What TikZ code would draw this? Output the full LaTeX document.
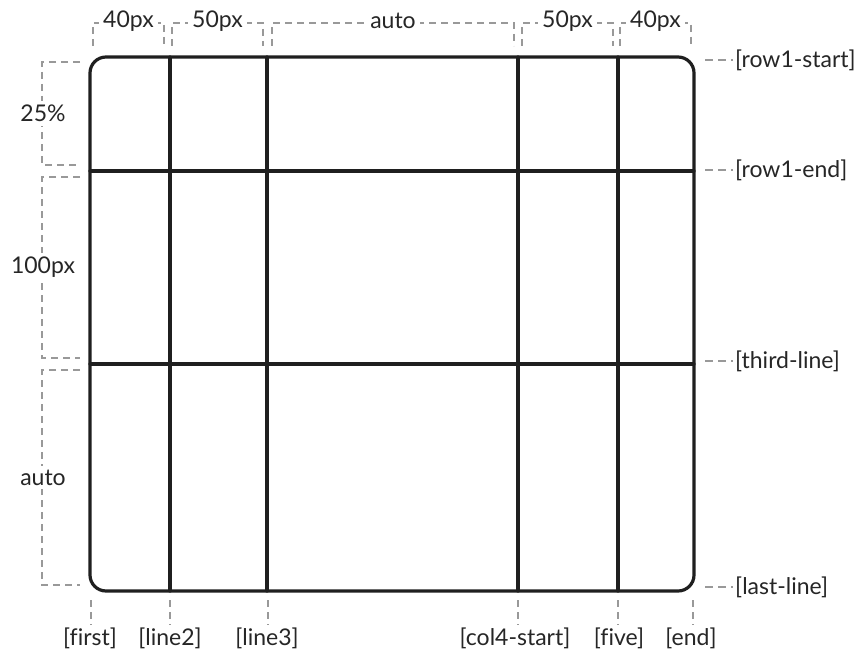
\documentclass[tikz,border=0pt]{standalone}
\usepackage{fontspec}
\setmainfont{Lato}[Ligatures=NoCommon]
\begin{document}
\begin{tikzpicture}[x=1pt,y=-1pt,
  grid/.style={line width=3.2pt,color=black!88,line cap=round,line join=round},
  dim/.style={color=black!40,line width=1.1pt,dash pattern=on 7pt off 5pt},
  lbl/.style={font=\fontsize{23}{26}\selectfont,text=black!85,inner sep=2pt},
  dlbl/.style={lbl,fill=white,inner sep=4pt}]
\useasboundingbox[fill=white] (0,0) rectangle (866,666);
% grid coordinates
\coordinate (tl) at (90,57);
\coordinate (br) at (694,591);
\draw[grid,rounded corners=16pt] (tl) rectangle (br);
\foreach \x/\n in {170/l2,267/l3,518/c4,618/f5}{
  \coordinate (\n top) at (\x,57);
  \coordinate (\n bot) at (\x,591);
  \draw[grid] (\n top) -- (\n bot);
}
\foreach \y/\n in {171/r1e,364/r3}{
  \coordinate (\n L) at (90,\y);
  \coordinate (\n R) at (694,\y);
  \draw[grid] (\n L) -- (\n R);
}
% top dimension brackets
\foreach \a/\b/\t/\n in {93/164/40px/da,172/263/50px/db,272/514/auto/dc,522/613/50px/dd,620/691/40px/de}{
  \draw[dim] (\a,46) -- (\a,23) -- (\b,23) -- (\b,46);
  \node[dlbl] (\n) at ({(\a+\b)/2},21) {\t};
}
% left dimension brackets
\foreach \a/\b/\t/\n in {62/165/25\%/la,177/358/100px/lb,370/585/auto/lc}{
  \draw[dim] (80,\a) -- (42,\a) -- (42,\b) -- (80,\b);
  \node[dlbl] (\n) at (43,{(\a+\b)/2}) {\t};
}
% right row-line labels
\foreach \y/\t/\n in {60/{[row1-start]}/ra,170/{[row1-end]}/rb,361/{[third-line]}/rc,587/{[last-line]}/rd}{
  \node[lbl,anchor=west] (\n) at (733,\y) {\t};
  \coordinate (\n d) at (705,\y);
  \draw[dim,dash pattern=on 8pt off 5pt] (\n d) -- (\n.west);
}
% bottom column-line labels
\foreach \x/\lx/\t/\n in {91/90/{[first]}/ba,170/170/{[line2]}/bb,268/267/{[line3]}/bc,518/515/{[col4-start]}/bd,618/619/{[five]}/be,693/691/{[end]}/bf}{
  \node[lbl] (\n) at (\lx,638) {\t};
  \coordinate (\n d) at (\x,600);
  \draw[dim] (\n d) -- (\x,625);
}
\end{tikzpicture}
\end{document}
